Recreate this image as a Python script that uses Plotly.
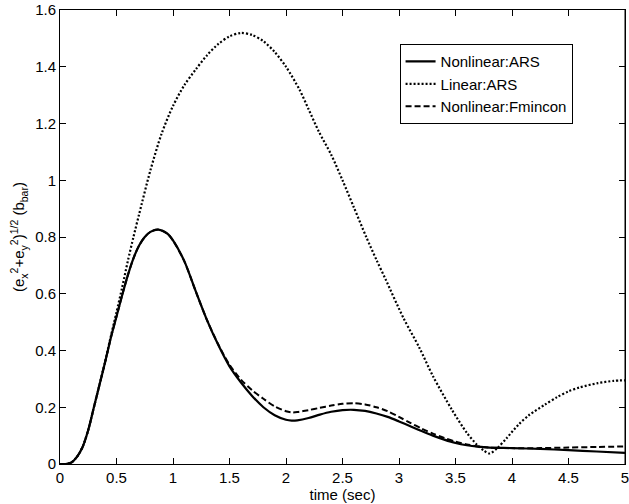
import plotly.graph_objects as go

# Nonlinear:ARS
t_nl = [0, 0.05, 0.1, 0.15, 0.2, 0.25, 0.3, 0.35, 0.4, 0.45, 0.5, 0.55, 0.6, 0.65, 0.7, 0.75, 0.8, 0.87,
        0.95, 1.0, 1.1, 1.2, 1.3, 1.4, 1.5, 1.6, 1.7, 1.8, 1.9, 2.0, 2.05, 2.1, 2.2, 2.3, 2.4, 2.5, 2.6,
        2.7, 2.8, 2.9, 3.0, 3.1, 3.2, 3.3, 3.4, 3.5, 3.6, 3.7, 3.8, 4.0, 4.25, 4.5, 4.75, 5.0]
v_nl = [0, 0.0, 0.005, 0.025, 0.06, 0.12, 0.2, 0.28, 0.36, 0.445, 0.52, 0.595, 0.665, 0.725, 0.77, 0.8, 0.818, 0.826,
        0.812, 0.788, 0.715, 0.61, 0.508, 0.42, 0.344, 0.288, 0.24, 0.2, 0.172, 0.156, 0.153, 0.154, 0.162, 0.174, 0.184, 0.19, 0.191,
        0.187, 0.178, 0.166, 0.15, 0.133, 0.116, 0.1, 0.086, 0.074, 0.066, 0.061, 0.058, 0.056, 0.053, 0.049, 0.044, 0.039]

# Linear:ARS
t_lin = [0, 0.05, 0.1, 0.15, 0.2, 0.25, 0.3, 0.35, 0.4, 0.45, 0.5, 0.55, 0.6, 0.65, 0.7, 0.8, 0.9, 1.0, 1.1,
         1.2, 1.3, 1.4, 1.5, 1.6, 1.7, 1.8, 1.9, 2.0, 2.12, 2.2, 2.29, 2.4, 2.5, 2.6, 2.71, 2.8, 2.88, 3.04,
         3.18, 3.3, 3.47, 3.6, 3.69, 3.75, 3.8, 3.87, 3.95, 4.06, 4.15, 4.29, 4.4, 4.5, 4.6, 4.76, 4.9, 5.0]
v_lin = [0, 0.0, 0.005, 0.025, 0.06, 0.12, 0.2, 0.28, 0.362, 0.45, 0.535, 0.622, 0.715, 0.8, 0.88, 1.035, 1.165, 1.262, 1.335,
         1.39, 1.44, 1.48, 1.507, 1.519, 1.512, 1.49, 1.452, 1.4, 1.319, 1.25, 1.172, 1.09, 1.0, 0.905, 0.8, 0.72, 0.652, 0.514,
         0.41, 0.31, 0.19, 0.11, 0.068, 0.048, 0.037, 0.056, 0.09, 0.14, 0.172, 0.209, 0.236, 0.256, 0.27, 0.285, 0.293, 0.295]

# Nonlinear:Fmincon
t_fm = [0, 0.05, 0.1, 0.15, 0.2, 0.25, 0.3, 0.35, 0.4, 0.45, 0.5, 0.55, 0.6, 0.65, 0.7, 0.75, 0.8, 0.87,
        0.95, 1.0, 1.1, 1.2, 1.3, 1.4, 1.5, 1.6, 1.7, 1.8, 1.9, 2.0, 2.05, 2.1, 2.2, 2.3, 2.4, 2.5, 2.6,
        2.7, 2.8, 2.9, 3.0, 3.1, 3.2, 3.3, 3.4, 3.5, 3.6, 3.7, 3.8, 4.0, 4.25, 4.5, 4.75, 5.0]
v_fm = [0, 0.0, 0.005, 0.025, 0.06, 0.12, 0.2, 0.28, 0.36, 0.445, 0.52, 0.595, 0.665, 0.725, 0.77, 0.8, 0.818, 0.826,
        0.812, 0.788, 0.715, 0.61, 0.508, 0.422, 0.35, 0.298, 0.26, 0.23, 0.203, 0.186, 0.182, 0.183, 0.19, 0.198, 0.206, 0.212, 0.214,
        0.21, 0.2, 0.186, 0.166, 0.145, 0.125, 0.107, 0.092, 0.079, 0.069, 0.062, 0.058, 0.056, 0.056, 0.058, 0.06, 0.062]

x_ticks = [0, 0.5, 1, 1.5, 2, 2.5, 3, 3.5, 4, 4.5, 5]
y_ticks = [0, 0.2, 0.4, 0.6, 0.8, 1, 1.2, 1.4, 1.6]

FONT = "Liberation Sans, Arial, Helvetica, sans-serif"

fig = go.Figure()
fig.add_trace(go.Scatter(x=t_nl, y=v_nl, mode="lines", name="Nonlinear:ARS",
                         line=dict(color="black", width=2.2, shape="spline", smoothing=0.8)))
fig.add_trace(go.Scatter(x=t_lin, y=v_lin, mode="lines", name="Linear:ARS",
                         line=dict(color="black", width=2.2, dash="2px,2px", shape="spline", smoothing=0.8)))
fig.add_trace(go.Scatter(x=t_fm, y=v_fm, mode="lines", name="Nonlinear:Fmincon",
                         line=dict(color="black", width=2, dash="6px,3px", shape="spline", smoothing=0.8)))

axis_common = dict(showgrid=False, zeroline=False, showline=True, linecolor="black", linewidth=1,
                   mirror="allticks", ticks="inside", ticklen=6, tickcolor="black", automargin=False,
                   ticklabeloverflow="allow",
                   tickfont=dict(family=FONT, size=15, color="black"))

fig.update_xaxes(range=[0, 5], tickvals=x_ticks, ticktext=[f"{v:g}" for v in x_ticks],
                 title=dict(text="time (sec)", standoff=2,
                            font=dict(family=FONT, size=15, color="black")),
                 **axis_common)
fig.update_yaxes(range=[0, 1.6], tickvals=y_ticks, ticktext=[f"{v:g}" for v in y_ticks],
                 title=dict(text="(e<sub>x</sub><sup>2</sup>+e<sub>y</sub><sup>2</sup>)<sup>1/2</sup> (b<sub>bar</sub>)",
                            standoff=6,
                            font=dict(family=FONT, size=15, color="black")),
                 **axis_common)

# right-hand frame edge of the axes box
fig.add_shape(type="line", xref="paper", yref="paper", x0=1, x1=1, y0=0, y1=1,
              line=dict(color="black", width=1), layer="above")

fig.update_layout(
    template="none",
    width=629, height=504,
    margin=dict(l=60, r=4, t=10, b=40, pad=0),
    paper_bgcolor="white", plot_bgcolor="white",
    showlegend=True,
    legend=dict(x=0.601, y=0.925, xanchor="left", yanchor="top",
                bgcolor="white", bordercolor="black", borderwidth=1,
                font=dict(family=FONT, size=15, color="black"),
                tracegroupgap=0, itemwidth=30),
)

fig.write_html("out.html", config={"displayModeBar": False},
               post_script="document.body.style.margin='0';")
